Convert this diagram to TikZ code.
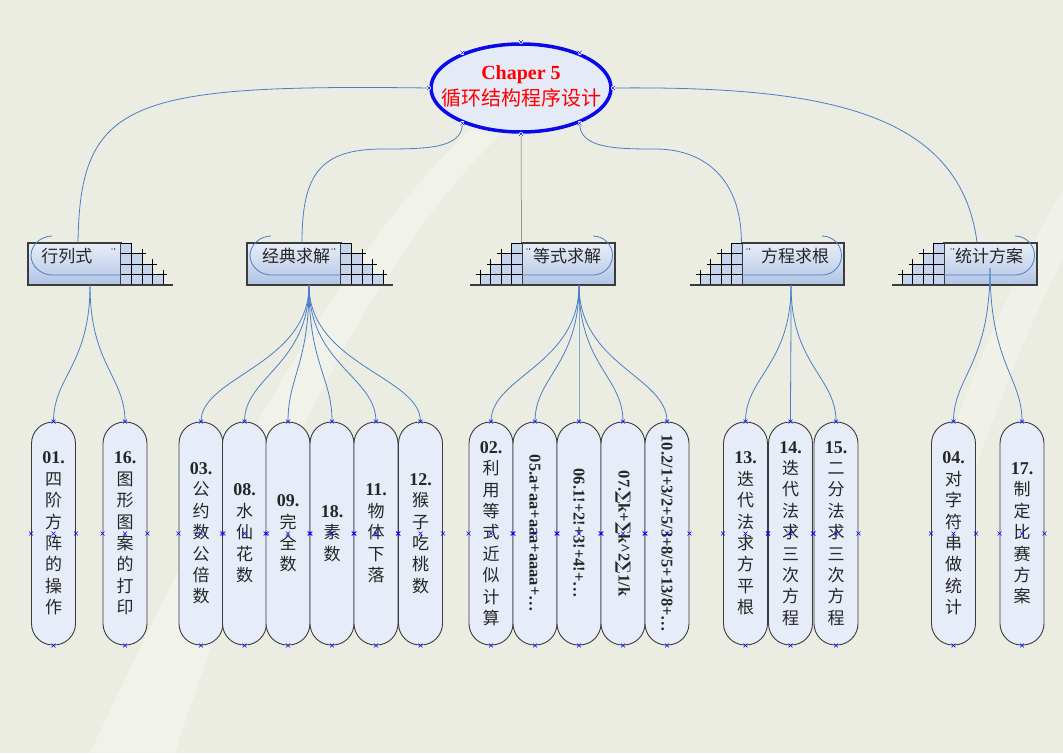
\documentclass[tikz,border=0pt]{standalone}
\usepackage{fontspec}
\setmainfont{Liberation Serif}
\newfontfamily\cjk{Noto Sans CJK SC}
\newfontfamily\dvs{DejaVu Serif}
\usetikzlibrary{shapes.geometric}
\definecolor{bgc}{HTML}{ECEDE2}
\definecolor{leaffill}{HTML}{E6ECF8}
\definecolor{ellf}{HTML}{E4EAF6}
\definecolor{connc}{HTML}{4A7EC6}
\definecolor{bord}{HTML}{3C3C3C}
\definecolor{boxtop}{HTML}{E8EEF8}
\definecolor{boxbot}{HTML}{B2C4E4}
\definecolor{cellc}{HTML}{C6D4EE}
\definecolor{ellb}{HTML}{0A0AE8}
\newcommand\stairR[2]{%
  \foreach \i in {1,...,4}{\foreach \j in {1,...,\i}{\fill[cellc] ({#1+(\j-1)*10.5},{243+(\i-1)*10.5}) rectangle +(10.5,10.5);}}
  \draw[gridl] (#1,243) -- ({#1+10.5},243) -- ({#1+10.5},285);
  \foreach \i in {1,2,3}{\draw[gridl] (#1,{243+\i*10.5}) -- ({#1+(\i+1)*10.5+4},{243+\i*10.5});
    \draw[gridl] ({#1+(\i+1)*10.5},{243+\i*10.5-5}) -- ({#1+(\i+1)*10.5},285);}
  \draw[basel] (#2,285) -- ({#1+52},285);}
\newcommand\stairL[2]{%
  \foreach \i in {1,...,4}{\foreach \j in {1,...,\i}{\fill[cellc] ({#1-\j*10.5},{243+(\i-1)*10.5}) rectangle +(10.5,10.5);}}
  \draw[gridl] (#1,243) -- ({#1-10.5},243) -- ({#1-10.5},285);
  \foreach \i in {1,2,3}{\draw[gridl] (#1,{243+\i*10.5}) -- ({#1-(\i+1)*10.5-4},{243+\i*10.5});
    \draw[gridl] ({#1-(\i+1)*10.5},{243+\i*10.5-5}) -- ({#1-(\i+1)*10.5},285);}
  \draw[basel] ({#1-52},285) -- (#2,285);}
\newcommand\arcDL[2]{\draw[deco] ({#1+24},236) .. controls ({#1+13.2},236) and ({#1+3},244.7) .. ({#1+3},255.5) .. controls ({#1+3},266.3) and ({#1+13.2},275) .. ({#1+24},275) -- (#2,275);}
\newcommand\arcDR[2]{\draw[deco] ({#1-22},236) .. controls ({#1-11.2},236) and ({#1-2.5},244.7) .. ({#1-2.5},255.5) .. controls ({#1-2.5},266.3) and ({#1-11.2},275) .. ({#1-22},275) -- (#2,275);}
\newcommand\twodots[2]{\fill[black] (#1,#2) circle (0.7pt) ({#1+2.6},#2) circle (0.7pt);}
\newcommand\nm[1]{{\rmfamily\bfseries\fontsize{18}{21.4}\selectfont #1}}
\begin{document}
\begin{tikzpicture}[x=1pt,y=-1pt,
 conn/.style={draw=connc, line width=0.8pt},
 midl/.style={draw=gray!80!black, line width=0.5pt},
 catbox/.style={draw=bord, line width=1.2pt, top color=boxtop, bottom color=boxbot, minimum height=42pt, inner sep=0pt},
 cattxt/.style={font=\cjk\fontsize{17}{20}\selectfont, inner sep=0pt, text=black!85},
 gridl/.style={draw=black, line width=1pt},
 basel/.style={draw=bord, line width=1.6pt},
 deco/.style={draw=connc, line width=0.8pt},
 leaf/.style={draw=bord, line width=0.9pt, fill=leaffill, rounded corners=21.5pt, minimum width=44pt, minimum height=223pt, inner sep=0pt, align=center, font=\cjk\fontsize{17}{21.4}\selectfont, text=black!85},
 rot/.style={rotate=-90, font=\bfseries\fontsize{16.5}{18}\selectfont, inner sep=0pt, text=black!85},
 mk/.style={draw=blue, line width=0.5pt}]
\fill[bgc] (0,0) rectangle (1063,753);
\useasboundingbox (0,0) rectangle (1063,753);
% light streaks
\fill[white, opacity=0.3] (90,753) .. controls (200,520) and (330,260) .. (470,130) -- (500,135) .. controls (360,270) and (250,520) .. (175,753) -- cycle;
\fill[white, opacity=0.25] (940,460) .. controls (980,360) and (1020,260) .. (1063,190) -- (1063,260) .. controls (1030,320) and (1000,400) .. (975,470) -- cycle;
% root
\node[ellipse, draw=ellb, line width=3.5pt, fill=ellf, minimum width=180pt, minimum height=88pt, inner sep=0pt] (ell) at (521,88) {};
\node[font=\fontsize{20}{26}\selectfont, text=red, align=center, inner sep=0pt] (ttl) at (521,86) {{\bfseries Chaper 5}\\{\cjk 循环结构程序设计}};
% category boxes
\node[catbox, minimum width=93pt] (cA) at (74.5,264) {};
\node[catbox, minimum width=94pt] (cB) at (294,264) {};
\node[catbox, minimum width=93pt] (cC) at (568.5,264) {};
\node[catbox, minimum width=102pt] (cD) at (793,264) {};
\node[catbox, minimum width=93pt] (cE) at (990.5,264) {};
\stairR{121}{28}
\stairR{341}{247}
\stairL{522}{615}
\stairL{742}{844}
\stairL{944}{1037}
\arcDL{28}{121}
\arcDL{247}{341}
\arcDR{615}{522}
\arcDR{844}{742}
\arcDR{1037}{944}
\node[cattxt] (tA) at (67,256) {行列式};
\node[cattxt] (tB) at (296,256) {经典求解};
\node[cattxt] (tC) at (567,256) {等式求解};
\node[cattxt] (tD) at (795,256) {方程求根};
\node[cattxt] (tE) at (989,256) {统计方案};
\twodots{112}{249}
\twodots{332}{249}
\twodots{527}{249}
\twodots{747}{249}
\twodots{951}{249}
% leaves
\node[leaf] (l01) at (53.5,533.5) {\nm{01.}\\四\\阶\\方\\阵\\的\\操\\作};
\node[leaf] (l16) at (125,533.5) {\nm{16.}\\图\\形\\图\\案\\的\\打\\印};
\node[leaf] (l03) at (201,533.5) {\nm{03.}\\公\\约\\数\\公\\倍\\数};
\node[leaf] (l08) at (244.5,533.5) {\nm{08.}\\水\\仙\\花\\数};
\node[leaf] (l09) at (288,533.5) {\nm{09.}\\完\\全\\数};
\node[leaf] (l18) at (332,533.5) {\nm{18.}\\素\\数};
\node[leaf] (l11) at (376,533.5) {\nm{11.}\\物\\体\\下\\落};
\node[leaf] (l12) at (420.5,533.5) {\nm{12.}\\猴\\子\\吃\\桃\\数};
\node[leaf] (l02) at (491,533.5) {\nm{02.}\\利\\用\\等\\式\\近\\似\\计\\算};
\node[leaf] (l05) at (535,533.5) {};
\node[leaf] (l06) at (579,533.5) {};
\node[leaf] (l07) at (623,533.5) {};
\node[leaf] (l10) at (667,533.5) {};
\node[rot] (t05) at (l05.center) {05.a+aa+aaa+aaaa+…};
\node[rot] (t06) at (l06.center) {06.1!+2!+3!+4!+…};
\node[rot] (t07) at (l07.center) {07.{\dvs∑}k+{\dvs∑}k\^{}2{\dvs∑}1/k};
\node[rot] (t10) at (l10.center) {10.2/1+3/2+5/3+8/5+13/8+…};
\node[leaf] (l13) at (745.5,533.5) {\nm{13.}\\迭\\代\\法\\求\\方\\平\\根};
\node[leaf] (l14) at (790.5,533.5) {\nm{14.}\\迭\\代\\法\\求\\三\\次\\方\\程};
\node[leaf] (l15) at (836,533.5) {\nm{15.}\\二\\分\\法\\求\\三\\次\\方\\程};
\node[leaf] (l04) at (953.5,533.5) {\nm{04.}\\对\\字\\符\\串\\做\\统\\计};
\node[leaf] (l17) at (1022,533.5) {\nm{17.}\\制\\定\\比\\赛\\方\\案};
% root connectors
\coordinate (mB) at (383,149);
\coordinate (mD) at (655,149);
\draw[conn] (ell.west) .. controls (130,84) and (80,100) .. ([xshift=3.5pt]cA.north);
\draw[conn] (ell.211) .. controls +(0,25) and +(45,0) .. (mB) .. controls +(-63,0) and +(0,-68) .. ([xshift=8pt]cB.north);
\draw[midl] (ell.south) -- (cC.north west);
\draw[conn] (ell.329) .. controls +(0,25) and +(-40,0) .. (mD) .. controls +(50,0) and +(0,-63) .. (cD.north west);
\draw[conn] (ell.east) .. controls (820,86) and (960,110) .. ([xshift=-13.5pt]cE.north);
% leaf connectors
\coordinate (sA) at (90,285);
\coordinate (sB) at (309,285);
\coordinate (sC) at (579,285);
\coordinate (sD) at (791,285);
\coordinate (sE) at (990,268);
\foreach \l in {l01,l16} \draw[conn] (sA) .. controls +(0,80) and +(0,-45) .. (\l.north);
\foreach \l in {l03,l08,l09,l18,l11,l12} \draw[conn] (sB) .. controls +(0,80) and +(0,-45) .. (\l.north);
\foreach \l in {l02,l05,l06,l07,l10} \draw[conn] (sC) .. controls +(0,80) and +(0,-45) .. (\l.north);
\foreach \l in {l13,l14,l15} \draw[conn] (sD) .. controls +(0,80) and +(0,-45) .. (\l.north);
\foreach \l in {l04,l17} \draw[conn] (sE) .. controls +(0,97) and +(0,-45) .. (\l.north);
% handle markers
\foreach \n in {l01,l16,l03,l08,l09,l18,l11,l12,l02,l05,l06,l07,l10,l13,l14,l15,l04,l17}
  \foreach \a in {north,south,east,west,center}
    \draw[mk] (\n.\a) +(-2,-2) -- +(2,2) +(-2,2) -- +(2,-2);
\foreach \a in {north,149,31,west,east,211,329,south}
  {\fill[white] (ell.\a) +(-2,-2) rectangle +(2,2);
   \draw[mk] (ell.\a) +(-2,-2) -- +(2,2) +(-2,2) -- +(2,-2);}
\end{tikzpicture}
\end{document}
